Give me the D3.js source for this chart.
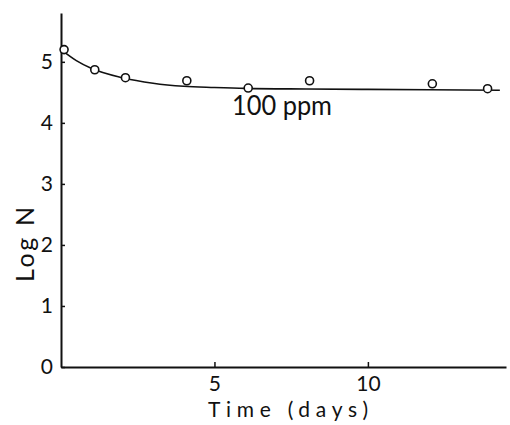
<!DOCTYPE html>
<html><head><meta charset="utf-8">
<script src="https://cdn.jsdelivr.net/npm/d3@7"></script>
<style>body{margin:0;background:#fff}svg{display:block}</style>
</head><body>
<svg id="c" width="510" height="425"></svg>
<script>
const pointDays = [0.1, 1.1, 2.1, 4.1, 6.1, 8.1, 12.1, 13.9];
const pointLogN = [5.2, 4.87, 4.74, 4.69, 4.57, 4.69, 4.64, 4.56];
const curveDays = [0, 0.5, 1, 2, 3, 4, 5, 6, 8, 10, 12, 14.3];
const curveLogN = [5.2, 5.02, 4.89, 4.74, 4.65, 4.6, 4.58, 4.565, 4.555, 4.548, 4.542, 4.535];
const xTicks = [5, 10];
const yTicks = [0, 1, 2, 3, 4, 5];
const seriesLabel = "100 ppm";

const svg = d3.select("#c");
const font = "Lato, 'DejaVu Sans', sans-serif";
const x = d3.scaleLinear().domain([0, 14.5]).range([61, 506]);
const y = d3.scaleLinear().domain([0, 5.8]).range([367, 13]);

const xa = svg.append("g").attr("transform", `translate(0,${y(0)})`)
  .call(d3.axisBottom(x).tickValues(xTicks).tickFormat(d3.format("d")).tickSize(-5).tickSizeOuter(0).tickPadding(9));
const ya = svg.append("g").attr("transform", `translate(${x(0)},0)`)
  .call(d3.axisLeft(y).tickValues(yTicks).tickFormat(d3.format("d")).tickSize(-4).tickSizeOuter(0).tickPadding(8));
[xa, ya].forEach(g => {
  g.select(".domain").attr("stroke", "#111").attr("stroke-width", 2);
  g.selectAll(".tick line").attr("stroke", "#111").attr("stroke-width", 1.5);
  g.selectAll(".tick text").attr("font-family", font).attr("font-size", 21).attr("fill", "#111");
});

const line = d3.line().x(d => x(d[0])).y(d => y(d[1])).curve(d3.curveMonotoneX);
svg.append("path").datum(curveDays.map((d, i) => [d, curveLogN[i]]))
  .attr("d", line).attr("fill", "none").attr("stroke", "#111").attr("stroke-width", 1.6);

svg.selectAll("circle.p").data(pointDays.map((d, i) => [d, pointLogN[i]])).enter()
  .append("circle").attr("class", "p")
  .attr("cx", d => x(d[0])).attr("cy", d => y(d[1])).attr("r", 4)
  .attr("fill", "#fff").attr("stroke", "#111").attr("stroke-width", 1.6);

svg.append("text").attr("x", 232).attr("y", 115)
  .attr("font-family", font).attr("font-size", 26).attr("fill", "#111")
  .attr("textLength", 100).attr("lengthAdjust", "spacingAndGlyphs").text(seriesLabel);

svg.append("text").attr("x", 208).attr("y", 417)
  .attr("font-family", font).attr("font-size", 21).attr("fill", "#111")
  .attr("textLength", 160).attr("lengthAdjust", "spacing").text("Time (days)");

svg.append("text").attr("transform", "translate(34,282) rotate(-90)")
  .attr("font-family", font).attr("font-size", 25).attr("fill", "#111")
  .attr("textLength", 75).attr("lengthAdjust", "spacing").text("Log N");
</script>
</body></html>
